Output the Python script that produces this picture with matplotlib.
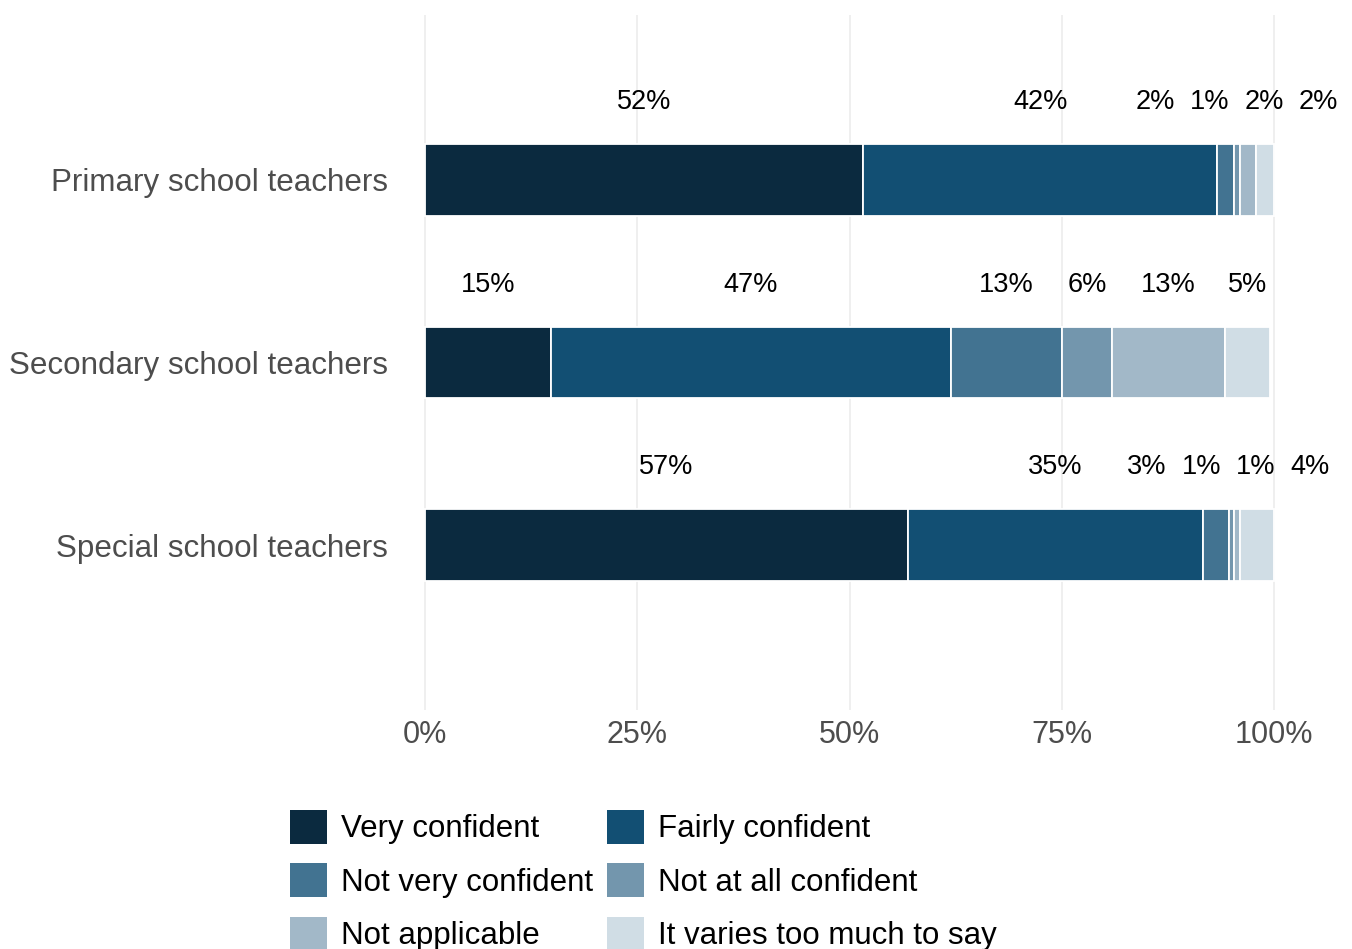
import numpy as np
import matplotlib
matplotlib.use('Agg')
import matplotlib.pyplot as plt
from matplotlib.patches import Patch

plt.rcParams['font.family'] = ['Liberation Sans', 'DejaVu Sans']

groups = ['Primary school teachers', 'Secondary school teachers', 'Special school teachers']
responses = ['Very confident', 'Fairly confident', 'Not very confident',
             'Not at all confident', 'Not applicable', 'It varies too much to say']
colours = ['#0b2a3f', '#124f73', '#427391', '#7396ad', '#a2b8c8', '#d0dde5']

# share of teachers (%) per response, same order as responses
primary = [51.6, 41.7, 2.0, 0.7, 1.9, 2.1]
secondary = [14.8, 47.2, 13.0, 5.9, 13.3, 5.3]
special = [56.9, 34.7, 3.1, 0.6, 0.7, 4.0]
shares = [primary, secondary, special]


def spread(xs, gap):
    # push label centres apart so neighbours are at least `gap` apart
    clusters = [[x] for x in xs]
    pos = lambda c: [np.mean(c) - 0.8 + (k - (len(c) - 1) / 2) * gap if len(c) > 1 else c[0]
                     for k in range(len(c))]
    merged = True
    while merged:
        merged = False
        for k in range(len(clusters) - 1):
            if pos(clusters[k + 1])[0] - pos(clusters[k])[-1] < gap - 1e-9:
                clusters[k] = clusters[k] + clusters.pop(k + 1)
                merged = True
                break
    out = []
    for c in clusters:
        out += pos(c)
    return out


fig = plt.figure(figsize=(13.52, 9.49), dpi=100)
ax = fig.add_axes([391 / 1352, 1 - 710 / 949, (1316.5 - 391) / 1352, 695 / 949])

ypos = [3, 2, 1]
for g, vals in enumerate(shares):
    left = 0
    mids = []
    for k, v in enumerate(vals):
        ax.barh(ypos[g], v, left=left, height=0.39, color=colours[k],
                edgecolor='white', linewidth=1.3, zorder=2)
        mids.append(left + v / 2)
        left += v
    for x, v in zip(spread(mids, 6.4), vals):
        ax.text(x, ypos[g] + 0.425, '%d%%' % round(v), ha='center', va='center',
                fontsize=19.5, color='black', clip_on=False)

ax.set_xlim(-4, 105)
ax.set_ylim(0.096, 3.904)
ax.set_xticks([0, 25, 50, 75, 100])
ax.set_xticklabels(['0%', '25%', '50%', '75%', '100%'])
ax.set_yticks(ypos)
ax.set_yticklabels(groups)
ax.tick_params(axis='both', length=0, labelcolor='#4d4d4d')
ax.tick_params(axis='x', pad=7, labelsize=22)
ax.tick_params(axis='y', pad=2, labelsize=22.6)
ax.grid(axis='x', color='#ebebeb', linewidth=1.1, zorder=0)
ax.set_axisbelow(True)
for s in ax.spines.values():
    s.set_visible(False)

order = [0, 2, 4, 1, 3, 5]
handles = [Patch(facecolor=colours[k], edgecolor='none') for k in order]
fig.legend(handles, [responses[k] for k in order], ncol=2, loc='upper left',
           bbox_to_anchor=(290 / 1352, 1 - 810 / 949), frameon=False,
           fontsize=22.5, handlelength=1.18, handleheight=1.3,
           handletextpad=0.45, labelspacing=0.6, columnspacing=0.45,
           borderpad=0, borderaxespad=0)

fig.savefig('out.png', dpi=100)
